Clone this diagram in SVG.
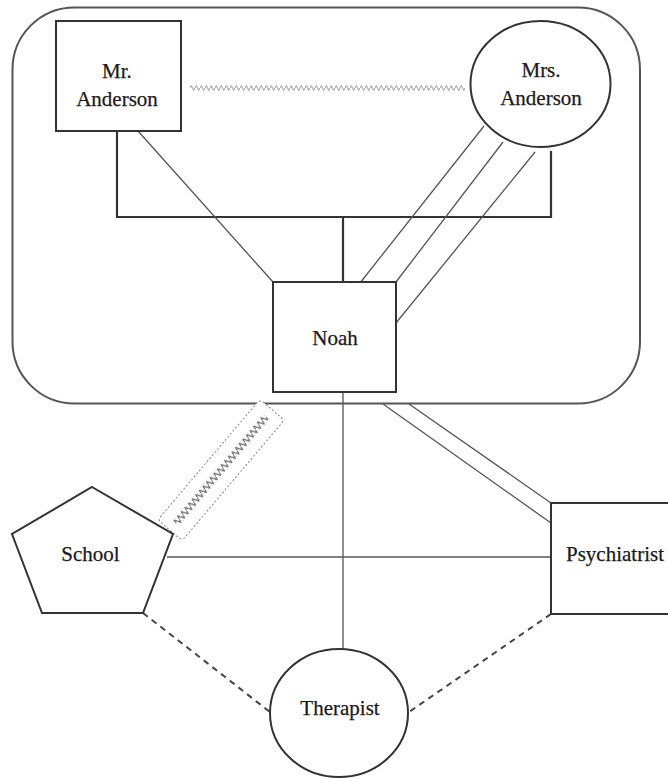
<svg xmlns="http://www.w3.org/2000/svg" width="668" height="779" viewBox="0 0 668 779">
<style>
  .node { fill: #fff; stroke: #333; stroke-width: 2; }
  .lbl { font-family: "Liberation Serif", "Times New Roman", "DejaVu Serif", serif; font-size: 21px; fill: #1a1a1a; stroke: #1a1a1a; stroke-width: 0.25; text-anchor: middle; }
  .thin { stroke: #555; stroke-width: 1.3; fill: none; }
  .bold { stroke: #333; stroke-width: 2.2; fill: none; }
  .dash { stroke: #444; stroke-width: 2; fill: none; stroke-dasharray: 6 5; }
</style>
<defs>
  <pattern id="wave" patternUnits="userSpaceOnUse" x="190" y="85" width="5" height="6">
    <path d="M0,3 L1.25,0.6 L3.75,5.4 L5,3" fill="none" stroke="#999" stroke-width="1"/>
  </pattern>
  <pattern id="zig" patternUnits="userSpaceOnUse" x="-70" y="-4" width="5.6" height="8">
    <path d="M0,4 L1.4,0.6 L4.2,7.4 L5.6,4" fill="none" stroke="#666" stroke-width="1.2"/>
  </pattern>
</defs>
<rect width="668" height="779" fill="#fff"/>

<g id="household">
  <rect x="12.5" y="7.5" width="627.5" height="396" rx="62" ry="62" fill="none" stroke="#555" stroke-width="2"/>
</g>

<g id="connectors">
  <path class="bold" d="M117,131 V217 H551 V151"/>
  <path class="bold" d="M343,217 V282"/>
  <line class="thin" x1="138" y1="131" x2="273" y2="282"/>
  <line class="thin" x1="484" y1="126" x2="360" y2="283"/>
  <line class="thin" x1="503" y1="142" x2="396" y2="282"/>
  <line class="thin" x1="535" y1="152" x2="396" y2="323"/>
  <rect x="190" y="85" width="275" height="6" fill="url(#wave)"/>
  <line class="thin" x1="343" y1="392" x2="343" y2="649"/>
  <line class="thin" x1="383" y1="404" x2="551" y2="523"/>
  <line class="thin" x1="409" y1="404" x2="551" y2="503"/>
  <line class="thin" x1="167" y1="557" x2="551" y2="557"/>
  <line class="dash" x1="143" y1="613" x2="270" y2="712"/>
  <line class="dash" x1="551" y1="614" x2="409" y2="712"/>
  <g transform="translate(221,470) rotate(-49.7)">
    <rect x="-79" y="-16" width="158" height="32" rx="4" fill="#fff" stroke="#888" stroke-width="1" stroke-dasharray="2 2"/>
    <rect x="-70" y="-4" width="140" height="8" fill="url(#zig)"/>
  </g>
</g>

<g id="mr-anderson">
  <rect class="node" x="56" y="21" width="125" height="110"/>
  <text class="lbl" x="117" y="78">Mr.</text>
  <text class="lbl" x="117" y="106">Anderson</text>
</g>

<g id="mrs-anderson">
  <ellipse class="node" cx="540.5" cy="84" rx="70" ry="63"/>
  <text class="lbl" x="541" y="77">Mrs.</text>
  <text class="lbl" x="541" y="105">Anderson</text>
</g>

<g id="noah">
  <rect class="node" x="273" y="282" width="123" height="110"/>
  <text class="lbl" x="335" y="345">Noah</text>
</g>

<g id="school">
  <polygon class="node" points="92,487 173,534 143,613 42,613 12,534"/>
  <text class="lbl" x="90.5" y="561">School</text>
</g>

<g id="psychiatrist">
  <rect class="node" x="551" y="503" width="130" height="111"/>
  <text class="lbl" x="615" y="561">Psychiatrist</text>
</g>

<g id="therapist">
  <ellipse class="node" cx="339" cy="713" rx="69" ry="64"/>
  <text class="lbl" x="340" y="715">Therapist</text>
</g>
</svg>
